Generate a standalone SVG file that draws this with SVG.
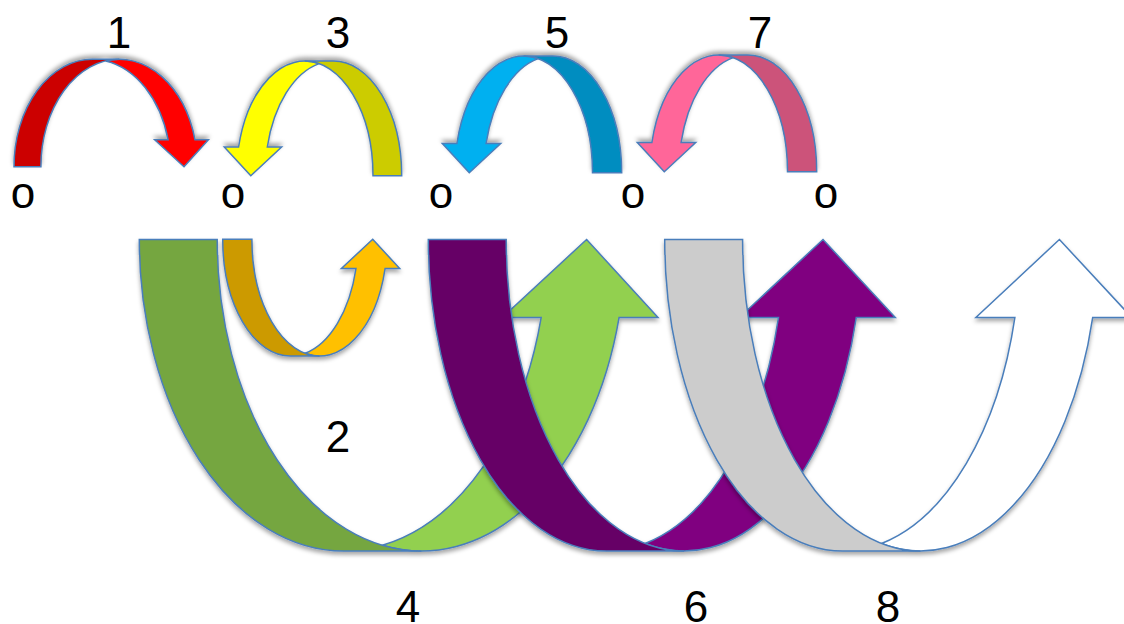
<svg xmlns="http://www.w3.org/2000/svg" xmlns:xlink="http://www.w3.org/1999/xlink" width="1124" height="624" viewBox="0 0 1124 624">
  <style>
    .edge { stroke: #4A7EBB; stroke-width: 1.5; stroke-linejoin: miter; }
    .num { font-family: "Liberation Sans", Arial, sans-serif; font-size: 44px; fill: #000; text-anchor: middle; }
  </style>
  <defs>
    <filter id="shade" x="-10%" y="-10%" width="120%" height="125%">
      <feDropShadow dx="0" dy="3" stdDeviation="2.2" flood-color="#000" flood-opacity="0.35"/>
    </filter>
    <!-- curved up arrow geometry in local coordinates (origin = top-left of the box);
         band = head + front arc, tail = back arc drawn on top -->
    <path id="bigBand" d="M394.7,0 L467,77.9 L428,77.9 A177.9,311.5 0 0 1 216.8,304 A177.9,311.5 0 0 0 350.2,77.9 L311.2,77.9 Z"/>
    <path id="bigTail" d="M0,0 A177.9,311.5 0 0 0 177.9,311.5 L255.8,311.5 A177.9,311.5 0 0 1 77.9,0 Z"/>
    <path id="smallBand" d="M152.4,0 L179.4,29.2 L164.8,29.2 A68.9,116.7 0 0 1 83.5,114.1 A68.9,116.7 0 0 0 135.6,29.2 L121,29.2 Z"/>
    <path id="smallTail" d="M0,0 A68.9,116.7 0 0 0 68.9,116.7 L98.1,116.7 A68.9,116.7 0 0 1 29.2,0 Z"/>
  </defs>

  <rect width="1124" height="624" fill="#FFFFFF"/>

  <!-- top row: arches over the o marks -->
  <g id="arrow1" filter="url(#shade)" transform="translate(14,166.7) scale(1,-1)">
    <path class="edge" fill="#FF0000" d="M170,0 L194.4,26.9 L181,26.9 A78.3,107.4 0 0 1 91.7,105.8 A78.3,107.4 0 0 0 154.1,26.9 L140.7,26.9 Z"/>
    <path class="edge" fill="#CC0000" d="M0,0 A78.3,107.4 0 0 0 78.3,107.4 L105.2,107.4 A78.3,107.4 0 0 1 26.9,0 Z"/>
  </g>
  <g id="arrow3" filter="url(#shade)" transform="translate(401.7,175.7) scale(-1,-1)">
    <path class="edge" fill="#FFFF00" d="M150.9,0 L177.4,28.7 L163.1,28.7 A68.3,114.7 0 0 1 82.6,112.1 A68.3,114.7 0 0 0 134.4,28.7 L120.1,28.7 Z"/>
    <path class="edge" fill="#CCCC00" d="M0,0 A68.3,114.7 0 0 0 68.3,114.7 L97,114.7 A68.3,114.7 0 0 1 28.7,0 Z"/>
  </g>
  <g id="arrow5" filter="url(#shade)" transform="translate(621.7,172.7) scale(-1,-1)">
    <use class="edge" href="#smallBand" fill="#00B0F0"/>
    <use class="edge" href="#smallTail" fill="#008DC0"/>
  </g>
  <g id="arrow7" filter="url(#shade)" transform="translate(816.7,171.7) scale(-1,-1)">
    <use class="edge" href="#smallBand" fill="#FF6699"/>
    <use class="edge" href="#smallTail" fill="#CC527A"/>
  </g>

  <!-- lower row: U-shaped arrows -->
  <g id="arrow2" filter="url(#shade)" transform="translate(222.7,239.3)">
    <path class="edge" fill="#FFC000" d="M150,0 L177,29.2 L162.4,29.2 A67.7,116.7 0 0 1 82.3,114 A67.7,116.7 0 0 0 133.3,29.2 L118.7,29.2 Z"/>
    <path class="edge" fill="#CC9A00" d="M0,0 A67.7,116.7 0 0 0 67.7,116.7 L96.9,116.7 A67.7,116.7 0 0 1 29.2,0 Z"/>
  </g>
  <g id="arrow4" filter="url(#shade)" transform="translate(139.3,239.5)">
    <path class="edge" fill="#92D050" d="M447.3,0 L518.7,77.9 L479.8,77.9 A204.2,311.5 0 0 1 243.1,305.8 A204.2,311.5 0 0 0 401.9,77.9 L363,77.9 Z"/>
    <path class="edge" fill="#75A640" d="M0,0 A204.2,311.5 0 0 0 204.2,311.5 L282.1,311.5 A204.2,311.5 0 0 1 77.9,0 Z"/>
  </g>
  <g id="arrow6" filter="url(#shade)" transform="translate(428.3,239.5)">
    <use class="edge" href="#bigBand" fill="#800080"/>
    <use class="edge" href="#bigTail" fill="#660066"/>
  </g>
  <g id="arrow8" filter="url(#shade)" transform="translate(664.7,239.5)">
    <use class="edge" href="#bigBand" fill="#FFFFFF"/>
    <use class="edge" href="#bigTail" fill="#CCCCCC"/>
  </g>

  <!-- labels -->
  <g id="labels">
    <text class="num" x="119" y="48">1</text>
    <text class="num" x="338" y="48">3</text>
    <text class="num" x="557" y="48">5</text>
    <text class="num" x="760" y="48">7</text>
    <text class="num" x="23" y="208">o</text>
    <text class="num" x="233" y="208">o</text>
    <text class="num" x="441" y="208">o</text>
    <text class="num" x="633" y="208">o</text>
    <text class="num" x="826" y="208">o</text>
    <text class="num" x="338" y="452">2</text>
    <text class="num" x="408" y="622">4</text>
    <text class="num" x="696" y="622">6</text>
    <text class="num" x="888" y="622">8</text>
  </g>
</svg>
